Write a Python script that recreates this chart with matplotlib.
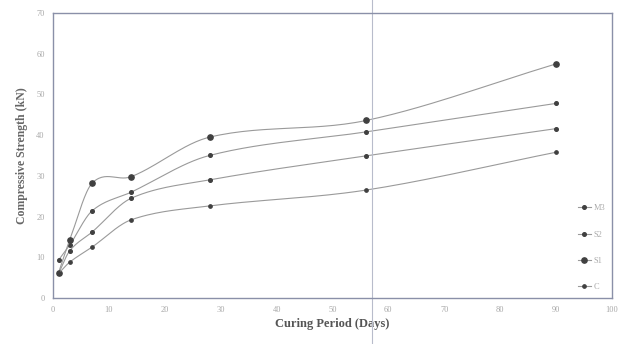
import numpy as np
import matplotlib
matplotlib.use("Agg")
import matplotlib.pyplot as plt

# curing days and strength values
days = [1, 3, 7, 14, 28, 56, 90]
m3 = [9.3, 13.0, 21.4, 26.0, 35.0, 40.8, 47.8]
s2 = [6.0, 11.6, 16.2, 24.5, 29.0, 34.9, 41.6]
s1 = [6.2, 14.3, 28.2, 29.8, 39.5, 43.6, 57.5]
c = [6.0, 8.8, 12.5, 19.2, 22.6, 26.5, 35.8]

labels = ["M3", "S2", "S1", "C"]
x_ticks = [0, 10, 20, 30, 40, 50, 60, 70, 80, 90, 100]
y_ticks = [0, 10, 20, 30, 40, 50, 60, 70]


def smooth(x, y, n=30):
    # Bezier smoothing through the points, like Excel's "smoothed line"
    x = np.asarray(x, float)
    y = np.asarray(y, float)
    px = np.concatenate([[2 * x[0] - x[1]], x, [2 * x[-1] - x[-2]]])
    py = np.concatenate([[2 * y[0] - y[1]], y, [2 * y[-1] - y[-2]]])
    xs, ys = [], []
    t = np.linspace(0, 1, n)
    for i in range(1, len(px) - 2):
        p0, p1, p2, p3 = px[i - 1], px[i], px[i + 1], px[i + 2]
        q0, q1, q2, q3 = py[i - 1], py[i], py[i + 1], py[i + 2]
        h = p2 - p1
        my0 = (q2 - q0) / (p2 - p0) * h / 3
        my1 = (q3 - q1) / (p3 - p1) * h / 3
        bx = [p1, p1 + h / 3, p2 - h / 3, p2]
        by = [q1, q1 + my0, q2 - my1, q2]
        xs.append((1 - t) ** 3 * bx[0] + 3 * (1 - t) ** 2 * t * bx[1] + 3 * (1 - t) * t ** 2 * bx[2] + t ** 3 * bx[3])
        ys.append((1 - t) ** 3 * by[0] + 3 * (1 - t) ** 2 * t * by[1] + 3 * (1 - t) * t ** 2 * by[2] + t ** 3 * by[3])
    return np.concatenate(xs), np.concatenate(ys)


plt.rcParams["font.family"] = ["Liberation Serif", "DejaVu Serif"]

fig = plt.figure(figsize=(6.2, 3.44), dpi=100)
ax = fig.add_axes([0.0855, 0.134, 0.9015, 0.828])

line_col = "#9a9a9a"
mark_col = "#404040"
sizes = [2.6, 2.6, 3.8, 2.4]
for vals, ms, lab in zip([m3, s2, s1, c], sizes, labels):
    sx, sy = smooth(days, vals)
    ax.plot(sx, sy, color=line_col, lw=0.8)
    ax.plot(days, vals, ls="none", marker="o", ms=ms, color=mark_col)
    ax.plot([], [], color=line_col, lw=0.8, marker="o", ms=ms,
            mfc=mark_col, mec=mark_col, label=lab)

# scan crease line
ax.axvline(57, ymin=-0.2, ymax=1.1, color="#b8bccb", lw=0.8, clip_on=False)

ax.set_xlim(0, 100)
ax.set_ylim(0, 70)
ax.set_xticks(x_ticks)
ax.set_yticks(y_ticks)
ax.tick_params(length=0, labelsize=6, labelcolor="#a8a8a8", pad=6)
for sp in ax.spines.values():
    sp.set_color("#8a90a8")
    sp.set_linewidth(1.0)

ax.set_xlabel("Curing Period (Days)", fontsize=9, color="#555555",
              fontweight="bold", labelpad=3)
ax.set_ylabel("Compressive Strength (kN)", fontsize=8.5, color="#666666",
              fontweight="bold", labelpad=6)

leg = ax.legend(loc="lower right", frameon=False, fontsize=6,
                labelcolor="#aaaaaa", handlelength=1.6, labelspacing=2.2,
                borderaxespad=0.4, handletextpad=0.3)

fig.savefig("out.png", dpi=100)
